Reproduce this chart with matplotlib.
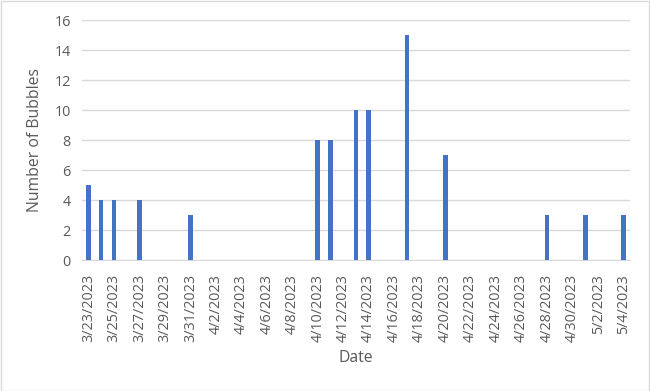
import datetime as dt
import matplotlib
matplotlib.use("Agg")
import matplotlib.pyplot as plt
import matplotlib.dates as mdates
from matplotlib.ticker import FuncFormatter

dates = ["2023-03-23", "2023-03-24", "2023-03-25", "2023-03-27", "2023-03-31",
         "2023-04-10", "2023-04-11", "2023-04-13", "2023-04-14", "2023-04-17",
         "2023-04-20", "2023-04-28", "2023-05-01", "2023-05-04"]
bubbles = [5, 4, 4, 4, 3, 8, 8, 10, 10, 15, 7, 3, 3, 3]
start_date = "2023-03-23"
end_date = "2023-05-04"

plt.rcParams["font.family"] = ["Open Sans", "DejaVu Sans"]
grey = "#595959"

x = [dt.date.fromisoformat(d) for d in dates]
d0 = dt.date.fromisoformat(start_date)
d1 = dt.date.fromisoformat(end_date)

fig = plt.figure(figsize=(6.5, 3.91), dpi=100)
ax = fig.add_axes([82 / 650, 1 - 260 / 391, (630 - 82) / 650, 240 / 391])

ax.bar(x, bubbles, width=0.36, color="#4472C4", zorder=3)

ax.set_xlim(mdates.date2num(d0) - 0.5, mdates.date2num(d1) + 0.5)
ax.set_ylim(0, 16)
ax.set_yticks(range(0, 17, 2))
ax.grid(axis="y", color="#d9d9d9", linewidth=1, zorder=0)

ticks = [mdates.date2num(d0 + dt.timedelta(days=i)) for i in range(0, (d1 - d0).days + 1, 2)]
ax.set_xticks(ticks)
ax.xaxis.set_major_formatter(FuncFormatter(
    lambda v, p: "{d.month}/{d.day}/{d.year}".format(d=mdates.num2date(v))))
plt.setp(ax.get_xticklabels(), rotation=90)

for s in ["top", "right", "left"]:
    ax.spines[s].set_visible(False)
ax.spines["bottom"].set_color("#d9d9d9")
ax.tick_params(axis="both", length=0, colors=grey, labelsize=10.4)
ax.tick_params(axis="y", pad=8)
ax.tick_params(axis="x", pad=10)

ax.set_ylabel("Number of Bubbles", color=grey, fontsize=11.3, labelpad=8)
fig.text((82 + 630) / 2 / 650, 1 - 358 / 391, "Date", color=grey, fontsize=11.3,
         ha="center", va="center")

fig.patches.append(plt.Rectangle((0.001, 0.001), 0.997, 0.997, transform=fig.transFigure,
                                 fill=False, edgecolor="#d9d9d9", linewidth=1))

fig.savefig("out.png", dpi=100)
